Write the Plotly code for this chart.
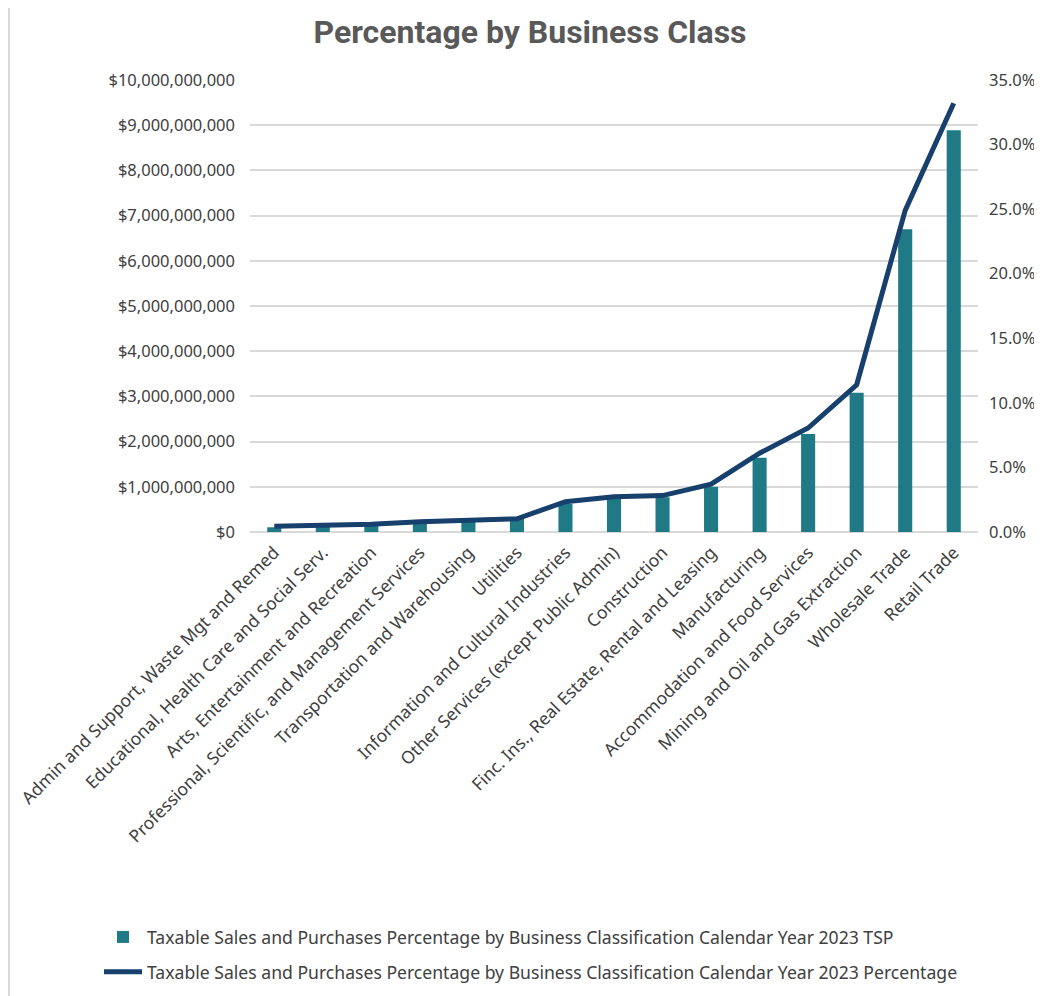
import plotly.graph_objects as go

categories = [
    "Admin and Support, Waste Mgt and Remed",
    "Educational, Health Care and Social Serv.",
    "Arts, Entertainment and Recreation",
    "Professional, Scientific, and Management Services",
    "Transportation and Warehousing",
    "Utilities",
    "Information and Cultural Industries",
    "Other Services (except Public Admin)",
    "Construction",
    "Finc. Ins., Real Estate, Rental and Leasing",
    "Manufacturing",
    "Accommodation and Food Services",
    "Mining and Oil and Gas Extraction",
    "Wholesale Trade",
    "Retail Trade",
]
tsp_values = [105e6, 145e6, 190e6, 250e6, 290e6, 310e6, 620e6, 730e6, 770e6,
              1000e6, 1640e6, 2170e6, 3080e6, 6700e6, 8890e6]
pct_values = [0.0045, 0.0055, 0.0060, 0.0080, 0.0090, 0.0102, 0.0235, 0.0272,
              0.0282, 0.0370, 0.0610, 0.0805, 0.1140, 0.2490, 0.3320]

bar_name = "Taxable Sales and Purchases Percentage by Business Classification Calendar Year 2023 TSP"
line_name = "Taxable Sales and Purchases Percentage by Business Classification Calendar Year 2023 Percentage"

FONT = "Noto Sans"
TXT = "#404040"

W, H = 1034, 988
L, R, T, B = 242, 64, 72, 464
PW, PH = W - L - R, H - T - B

fig = go.Figure()
fig.add_trace(go.Bar(
    x=categories, y=tsp_values, name=bar_name,
    marker=dict(color="#1f7a86", line=dict(width=0)),
    width=0.29, legendgroup="a",
))
fig.add_trace(go.Scatter(
    x=categories, y=pct_values, name=line_name, yaxis="y2",
    mode="lines", line=dict(color="#17406d", width=5), legendgroup="b",
))

fig.update_layout(
    width=W, height=H,
    paper_bgcolor="white", plot_bgcolor="white",
    margin=dict(l=L, r=R, t=T, b=B, autoexpand=False),
    title=dict(text="<b>Percentage by Business Class</b>", x=522 / W, xref="container",
               xanchor="center", y=1 - 24 / H, yref="container", yanchor="middle",
               font=dict(family="Roboto", size=32, color="#595959")),
    font=dict(family=FONT, size=16, color=TXT),
    xaxis=dict(tickangle=-45, tickfont=dict(family=FONT, size=17.5, color=TXT),
               showgrid=False, ticks="", showline=False, ticklabelstandoff=6),
    yaxis=dict(range=[0, 10e9], dtick=1e9, tickformat="$,.0f",
               showgrid=True, gridcolor="#d9d9d9", gridwidth=1.5,
               zeroline=True, zerolinecolor="#d9d9d9", zerolinewidth=1.5,
               tickfont=dict(family=FONT, size=16.5, color=TXT), ticks="",
               ticklabelstandoff=14),
    yaxis2=dict(range=[0, 0.35], dtick=0.05, tickformat=".1%", overlaying="y",
                side="right", showgrid=False, zeroline=False,
                tickfont=dict(family=FONT, size=16.5, color=TXT), ticks="",
                ticklabelstandoff=10),
    legend=dict(x=(91 - L) / PW, y=(T + PH - 911) / PH, xanchor="left", yanchor="top",
                orientation="v", font=dict(family=FONT, size=17.6, color=TXT),
                itemwidth=38, tracegroupgap=9, bgcolor="rgba(0,0,0,0)"),
    bargap=0.71,
    shapes=[dict(type="line", xref="paper", yref="paper",
                 x0=(1 - L) / PW, x1=(1 - L) / PW,
                 y0=(T + PH) / PH, y1=(T + PH - H) / PH,
                 line=dict(color="#d9d9d9", width=2))],
)

fig.write_html("out.html")
